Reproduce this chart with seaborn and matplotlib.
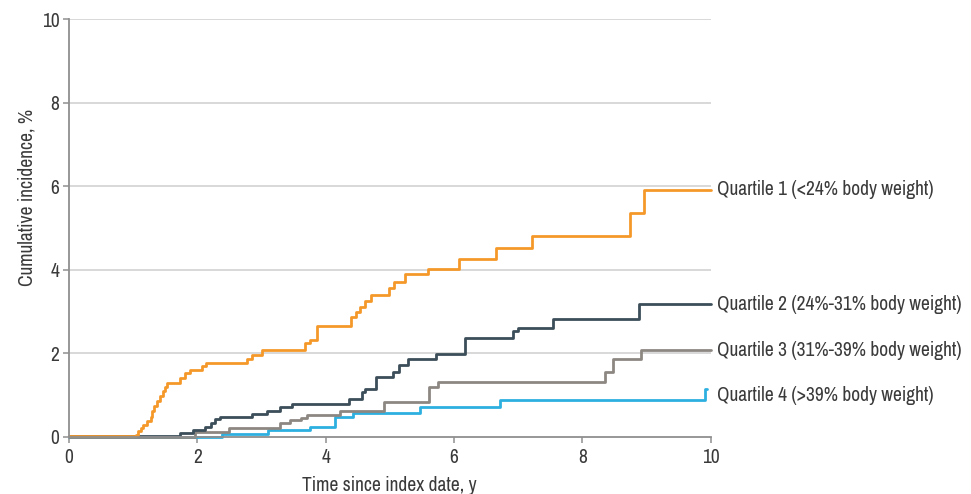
import matplotlib
matplotlib.use("Agg")
import matplotlib.pyplot as plt
from matplotlib import font_manager
import numpy as np
import pandas as pd
import seaborn as sns

# Cumulative incidence step curves (time in years, incidence in %)
q1_time = [0, 1.04, 1.08, 1.12, 1.16, 1.22, 1.27, 1.30, 1.32, 1.37, 1.42, 1.46, 1.49, 1.52,
           1.73, 1.80, 1.88, 2.07, 2.14, 2.77, 2.85, 3.00, 3.68, 3.76, 3.86, 4.40, 4.47,
           4.54, 4.62, 4.71, 4.98, 5.06, 5.23, 5.60, 6.08, 6.66, 7.22, 8.74, 8.96, 10.0]
q1_inc = [0.03, 0.05, 0.15, 0.22, 0.28, 0.38, 0.48, 0.62, 0.74, 0.85, 0.98, 1.10, 1.20, 1.29,
          1.41, 1.52, 1.61, 1.70, 1.78, 1.86, 1.97, 2.09, 2.25, 2.33, 2.66, 2.88, 3.00,
          3.12, 3.25, 3.40, 3.57, 3.72, 3.91, 4.03, 4.25, 4.53, 4.81, 5.35, 5.91, 5.91]

q2_time = [0, 1.73, 1.94, 2.12, 2.22, 2.27, 2.35, 2.85, 3.08, 3.29, 3.47, 4.37, 4.56, 4.62,
           4.79, 5.05, 5.15, 5.29, 5.72, 6.17, 6.92, 7.00, 7.54, 8.88, 10.0]
q2_inc = [0.03, 0.10, 0.17, 0.25, 0.33, 0.42, 0.47, 0.55, 0.63, 0.71, 0.80, 0.90, 1.07, 1.16,
          1.44, 1.56, 1.72, 1.86, 1.98, 2.38, 2.53, 2.61, 2.83, 3.18, 3.18]

q3_time = [0, 1.96, 2.50, 3.29, 3.44, 3.62, 3.71, 4.22, 4.91, 5.61, 5.75, 8.36, 8.48, 8.91, 10.0]
q3_inc = [0.0, 0.11, 0.21, 0.33, 0.40, 0.45, 0.53, 0.63, 0.84, 1.20, 1.32, 1.56, 1.86, 2.07, 2.07]

q4_time = [0, 2.38, 3.10, 3.75, 4.14, 4.43, 5.47, 6.72, 9.92, 9.94]
q4_inc = [0.0, 0.08, 0.17, 0.25, 0.48, 0.58, 0.71, 0.89, 1.15, 1.15]

group_labels = [
    "Quartile 1 (<24% body weight)",
    "Quartile 2 (24%-31% body weight)",
    "Quartile 3 (31%-39% body weight)",
    "Quartile 4 (>39% body weight)",
]
group_colors = ["#F5982A", "#3C4E59", "#8D8782", "#2DB0E0"]

x_ticks = [0, 2, 4, 6, 8, 10]
y_ticks = [0, 2, 4, 6, 8, 10]

sns.set_theme(style="white")

# Prefer a narrow face for the labels when one is available
narrow = sorted({f.name for f in font_manager.fontManager.ttflist if "Narrow" in f.name})
if narrow:
    plt.rcParams["font.family"] = [narrow[0], "DejaVu Sans"]
    label_size, tick_size = 14, 14
else:
    plt.rcParams["font.family"] = ["Liberation Sans", "DejaVu Sans"]
    label_size, tick_size = 11, 11

frames = []
for label, t, v in zip(group_labels,
                       [q1_time, q2_time, q3_time, q4_time],
                       [q1_inc, q2_inc, q3_inc, q4_inc]):
    frames.append(pd.DataFrame({"time": t, "incidence": v, "group": label}))
df = pd.concat(frames, ignore_index=True)

fig = plt.figure(figsize=(9.71, 4.94), dpi=100)
ax = fig.add_axes([0.0711, 0.1154, 0.6607, 0.8461])

text_color = "#3a3a3a"
axis_color = "#8f8f8f"

for y in y_ticks[1:]:
    ax.axhline(y, color="#d6d6d6", lw=1.3, zorder=0)

draw_order = group_labels[::-1]
palette = dict(zip(group_labels, group_colors))
sns.lineplot(data=df, x="time", y="incidence", hue="group", hue_order=draw_order,
             palette=palette, estimator=None, sort=False, drawstyle="steps-post",
             lw=2.0, legend=False, ax=ax, clip_on=False, zorder=3)

ax.set_xlim(0, 10)
ax.set_ylim(0, 10)
ax.set_xticks(x_ticks)
ax.set_yticks(y_ticks)
ax.set_xticklabels([str(v) for v in x_ticks])
ax.set_yticklabels([str(v) for v in y_ticks])

for side in ["top", "right"]:
    ax.spines[side].set_visible(False)
for side in ["left", "bottom"]:
    ax.spines[side].set_color(axis_color)
    ax.spines[side].set_linewidth(1.3)
    ax.spines[side].set_zorder(4)

ax.tick_params(axis="both", which="major", direction="out", length=4, width=1.1,
               color=axis_color, labelcolor=text_color, labelsize=tick_size, pad=3)
ax.tick_params(axis="x", bottom=True, pad=4)
ax.tick_params(axis="y", left=True)

ax.set_xlabel("Time since index date, y", fontsize=label_size, color=text_color)
ax.set_ylabel("Cumulative incidence, %", fontsize=label_size, color=text_color)
ax.xaxis.set_label_coords(0.5, -0.094)
ax.yaxis.set_label_coords(-0.05, 0.572)

# End-of-curve labels
label_y = [5.91, 3.18, 2.07, 1.0]
for label, y in zip(group_labels, label_y):
    ax.text(10.1, y, label, fontsize=label_size, color=text_color, va="center", ha="left",
            clip_on=False)

ax.grid(False)
fig.savefig("out.png", dpi=100)
